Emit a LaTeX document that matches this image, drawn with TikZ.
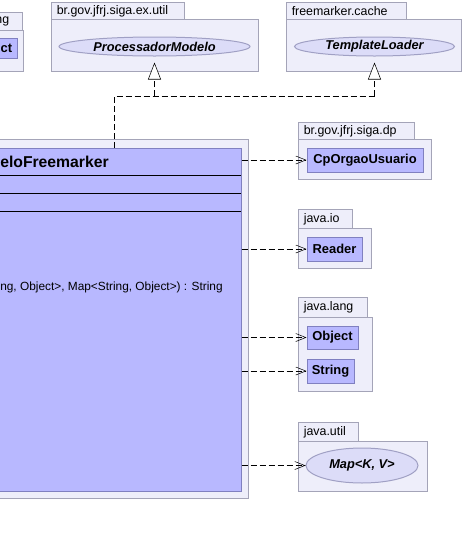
\documentclass[tikz,border=0pt]{standalone}
\usepackage{fontspec}
\setmainfont{Liberation Sans}
\usepackage{xcolor}
\usepackage{tikz}
\usetikzlibrary{arrows.meta, shapes.geometric, fit}

\definecolor{pkgfill}{HTML}{EEEEFA}
\definecolor{pkgline}{HTML}{A4A4B8}
\definecolor{clsfill}{HTML}{B8B8FF}
\definecolor{clsline}{HTML}{8080C0}
\definecolor{ifcfill}{HTML}{DCDCF8}
\definecolor{ifcline}{HTML}{A0A0C4}

\begin{document}
\begin{tikzpicture}[x=0.75pt, y=-0.75pt,
    pkg/.style={draw=pkgline, fill=pkgfill, line width=0.75pt},
    pkglabel/.style={anchor=west, inner sep=0pt, font=\fontsize{9.3}{11}\selectfont},
    cls/.style={draw=clsline, fill=clsfill, line width=0.75pt, inner sep=0pt,
        font=\fontsize{9.7}{11}\selectfont\bfseries},
    ifc/.style={ellipse, draw=ifcline, fill=ifcfill, line width=0.75pt, inner sep=0pt,
        font=\fontsize{9.6}{11}\selectfont\bfseries\itshape},
    dep/.style={draw, dash pattern=on 4.5pt off 2.25pt,
        -{Straight Barb[length=7.5pt, width=6pt]}},
    impl/.style={draw, dash pattern=on 4.5pt off 2.25pt},
    real/.style={impl, shorten >=4.5pt,
        -{Triangle[open, length=12.75pt, width=9.75pt, fill=white]}}]
    \clip (0,0) rectangle (462,536);

    % 1. Goi cat o canto superior esquerdo
    \draw[pkg] (-10,12) rectangle (22.5,30);
    \draw[pkg] (-10,30) rectangle (23,71);
    \node[pkglabel, anchor=east] (lblng) at (9.5,21.5) {ng};
    \node[cls, fit={(-10,38) (17,58)}] (objleft) {};
    \node[anchor=east, inner sep=0pt, font=\fontsize{9.7}{11}\selectfont\bfseries] (txtct) at (12.5,48) {ct};

    % 2. Interfaces no topo
    \draw[pkg] (51,2) rectangle (184,19);
    \draw[pkg] (51,19) rectangle (258,71);
    \node[pkglabel] (lblexutil) at (56.5,11) {br.gov.jfrj.siga.ex.util};
    \node[ifc, minimum width=143.25pt, minimum height=14.25pt] (procmod) at (154.5,46.5) {ProcessadorModelo};

    \draw[pkg] (286,2) rectangle (406,19);
    \draw[pkg] (286,19) rectangle (461,71);
    \node[pkglabel] (lblcache) at (291.5,11) {freemarker.cache};
    \node[ifc, minimum width=120pt, minimum height=14.25pt] (tmplload) at (374.5,46.5) {TemplateLoader};

    % 3. Classe principal (cortada a esquerda)
    \draw[pkg] (-10,139) rectangle (248,498);
    \node[cls, fit={(-10,148) (241,491)}] (main) {};
    \draw[black, line width=0.75pt] (-10,175) -- (241,175);
    \draw[black, line width=0.75pt] (-10,193) -- (241,193);
    \draw[black, line width=0.75pt] (-10,211) -- (241,211);
    \node[anchor=west, inner sep=0pt, font=\fontsize{11.8}{13}\selectfont\bfseries] (title) at (0,162) {eloFreemarker};
    \node[anchor=west, inner sep=0pt, font=\fontsize{8.9}{11}\selectfont] (opproc) at (0,287.5) {ng, Object>, Map<String, Object>) : String};

    % 4. Pacotes a direita
    \draw[pkg] (298,122) rectangle (414,139);
    \draw[pkg] (298,139) rectangle (431,179);
    \node[pkglabel] (lbldp) at (303.5,131) {br.gov.jfrj.siga.dp};
    \node[cls, minimum width=87pt, minimum height=18pt] (cporgao) at (365,160) {CpOrgaoUsuario};

    \draw[pkg] (298,209) rectangle (352,228);
    \draw[pkg] (298,228) rectangle (371,268);
    \node[pkglabel] (lblio) at (303.5,219) {java.io};
    \node[cls, minimum width=41.25pt, minimum height=18pt] (reader) at (334.5,249) {Reader};

    \draw[pkg] (298,297) rectangle (367,317);
    \draw[pkg] (298,317) rectangle (372,391);
    \node[pkglabel] (lbllang) at (303.5,307.5) {java.lang};
    \node[cls, minimum width=38.25pt, minimum height=17.25pt] (object) at (332.5,337.5) {Object};
    \node[cls, minimum width=35.25pt, minimum height=18pt] (string) at (330.5,371) {String};

    \draw[pkg] (298,422) rectangle (358,441);
    \draw[pkg] (298,441) rectangle (427,491);
    \node[pkglabel] (lblutil) at (303.5,432) {java.util};
    \node[ifc, minimum width=84pt, minimum height=26.25pt] (mapifc) at (362,465.5) {Map<K, V>};

    % 5. Realizacoes (tracejado com triangulo)
    \coordinate (fork) at (114,96);
    \draw[impl] (main.north -| fork) |- (tmplload.south |- fork);
    \draw[real] (procmod.south |- fork) -- (procmod.south);
    \draw[real] (tmplload.south |- fork) -- (tmplload.south);

    % 6. Dependencias
    \draw[dep] (main.east |- cporgao) -- (cporgao.west);
    \draw[dep] (main.east |- reader) -- (reader.west);
    \draw[dep] (main.east |- object) -- (object.west);
    \draw[dep] (main.east |- string) -- (string.west);
    \draw[dep] (main.east |- mapifc) -- (mapifc.west);
\end{tikzpicture}
\end{document}
